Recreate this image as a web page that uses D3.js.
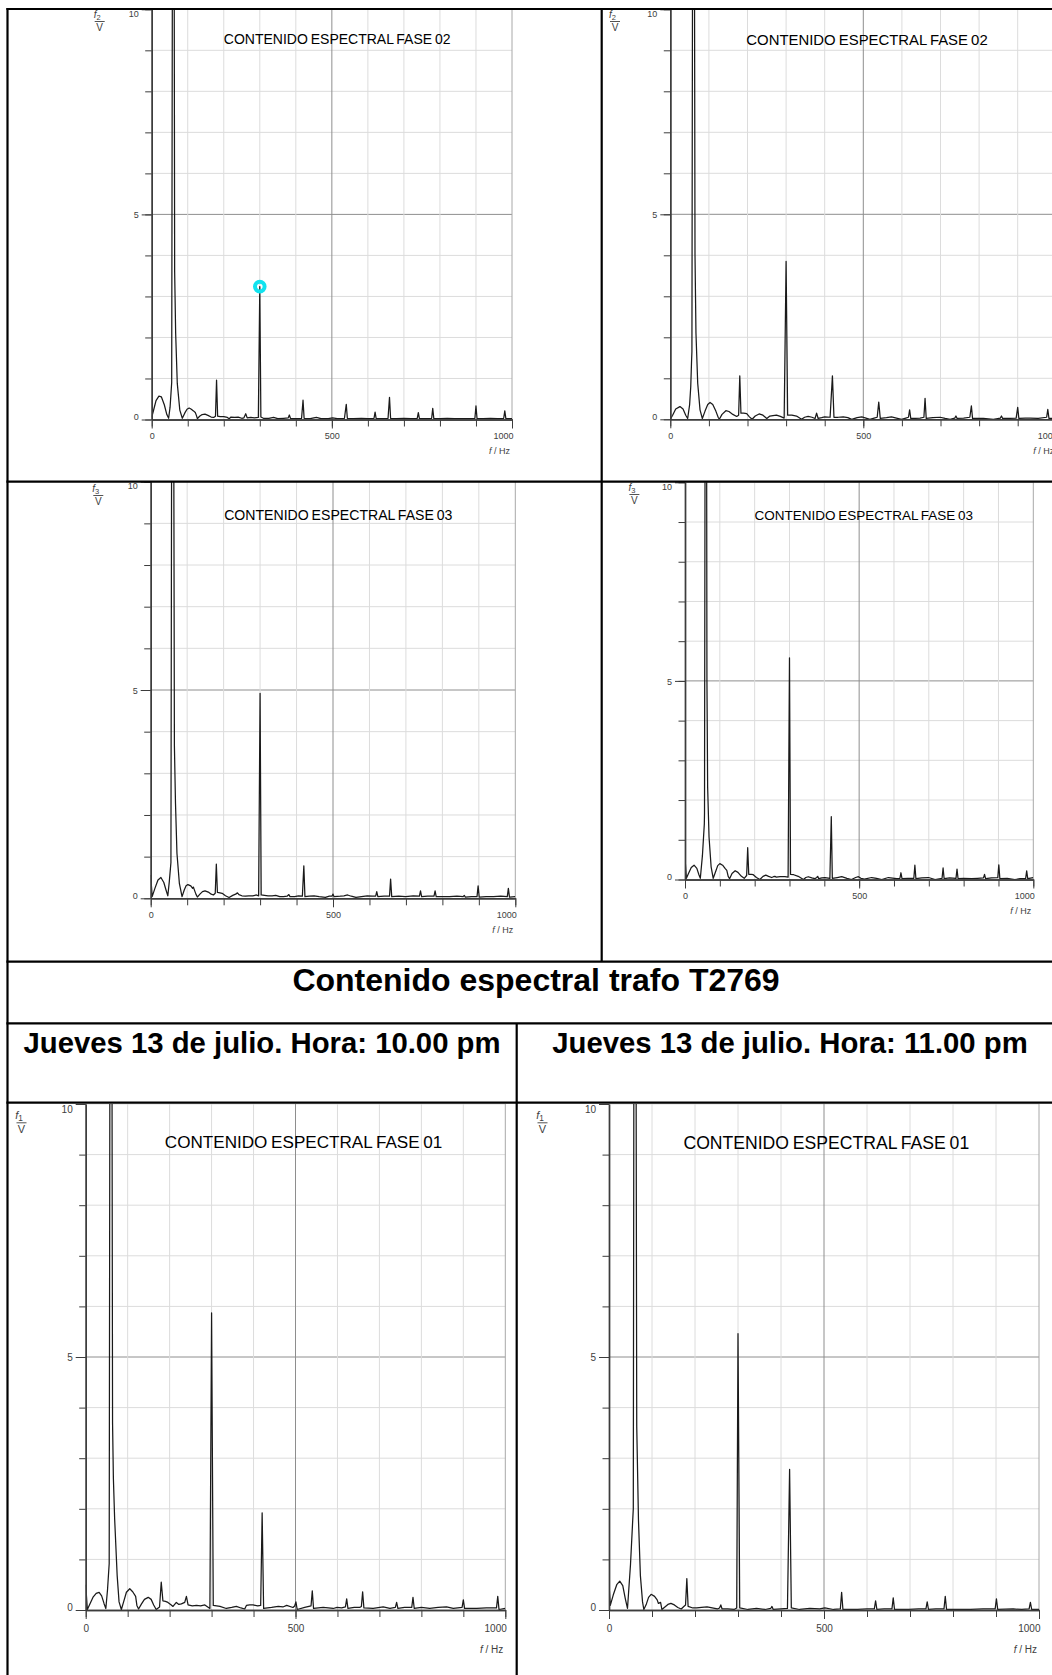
<!DOCTYPE html>
<html>
<head>
<meta charset="utf-8">
<script src="https://cdn.jsdelivr.net/npm/d3@7"></script>
<style>
  html, body { margin: 0; padding: 0; background: #fff; }
  svg { display: block; }
  text { font-family: "Liberation Sans", Arial, Helvetica, sans-serif; }
</style>
</head>
<body>
<script>
// ---- Data: spectra as [frequency Hz, amplitude V] ----
const fase02_a = [[0,0.05],[5,0.22],[12,0.46],[20,0.57],[27,0.55],[35,0.36],[42,0.12],[47,0.03],[51,0.3],[55.5,0.9],[60,25],[63.7,3.6],[66.5,2.1],[71,0.88],[78,0.23],[85,0.03],[92,0.16],[98,0.25],[104,0.28],[110,0.25],[116,0.21],[121,0.17],[124,0.1],[127,0.02],[133,0.08],[140,0.12],[148,0.13],[156,0.1],[165,0.06],[172,0.05],[177,0.08],[180,0.96],[183,0.08],[190,0.07],[200,0.07],[210,0.05],[215,0.02],[220,0.06],[230,0.05],[240,0.06],[250,0.03],[256,0.04],[261,0.14],[265,0.04],[275,0.05],[285,0.04],[296,0.05],[300,3.24],[303,0.06],[310,0.03],[325,0.03],[338,0.05],[350,0.02],[366,0.03],[379,0.04],[382,0.11],[385,0.03],[400,0.02],[416,0.03],[420,0.47],[423,0.03],[440,0.02],[457,0.05],[470,0.02],[490,0.02],[502,0.04],[515,0.02],[535,0.03],[540,0.37],[543,0.03],[560,0.02],[582,0.03],[600,0.02],[617,0.03],[620,0.18],[623,0.02],[640,0.02],[656,0.03],[660,0.54],[663,0.03],[680,0.02],[700,0.03],[720,0.02],[737,0.03],[740,0.17],[743,0.02],[760,0.02],[777,0.03],[780,0.27],[783,0.02],[800,0.02],[820,0.03],[840,0.02],[860,0.02],[880,0.02],[897,0.03],[900,0.33],[903,0.02],[920,0.02],[940,0.03],[960,0.02],[977,0.03],[980,0.21],[983,0.02],[1000,0.02]];

const fase02_b = [[0,0],[6,0.1],[14,0.25],[25,0.31],[33,0.25],[40,0.1],[45,0.02],[50,0.35],[53,0.8],[55,1.4],[56,1.65],[60,25],[64,4.0],[66.5,2.1],[71,0.88],[77,0.23],[83,0.02],[90,0.2],[97,0.36],[103,0.41],[110,0.36],[118,0.2],[124,0.05],[127,0.0],[134,0.12],[144,0.21],[152,0.19],[162,0.12],[172,0.07],[177,0.1],[180,1.06],[183,0.15],[190,0.15],[198,0.14],[205,0.06],[212,0.0],[220,0.08],[230,0.13],[240,0.1],[250,0.02],[258,0.08],[266,0.09],[275,0.1],[285,0.07],[295,0.03],[300,3.85],[304,0.1],[315,0.1],[327,0.08],[340,0.0],[348,0.05],[357,0.07],[367,0.05],[375,0.02],[379,0.15],[383,0.02],[392,0.04],[400,0.06],[414,0.05],[420,1.06],[424,0.05],[435,0.05],[448,0.06],[460,0.04],[470,0.0],[484,0.04],[496,0.06],[507,0.03],[517,0.0],[528,0.03],[536,0.05],[540,0.42],[544,0.02],[560,0.04],[573,0.06],[586,0.03],[599,0.0],[610,0.03],[617,0.05],[620,0.23],[623,0.02],[635,0.02],[647,0.03],[657,0.05],[660,0.51],[663,0.02],[680,0.04],[699,0.05],[712,0.02],[725,0.0],[737,0.03],[740,0.08],[743,0.02],[760,0.03],[776,0.05],[780,0.33],[783,0.02],[800,0.02],[811,0.02],[837,0.0],[855,0.03],[858,0.08],[861,0.02],[880,0.02],[896,0.03],[900,0.29],[903,0.02],[920,0.03],[932,0.03],[953,0.02],[975,0.05],[978,0.24],[981,0.02],[1000,0.03]];

const fase03_a = [[0,0.56],[4,0.04],[12,0.25],[20,0.44],[28,0.5],[36,0.38],[42,0.2],[47,0.06],[51,0.4],[55.5,0.86],[60,25],[65,3.66],[68,2.28],[72,1.08],[78.6,0.36],[86,0.04],[92,0.2],[97,0.3],[102,0.33],[110,0.3],[115,0.24],[117,0.27],[119,0.22],[124,0.1],[128,0.03],[135,0.1],[142,0.16],[149,0.18],[158,0.15],[166,0.1],[172,0.08],[177,0.12],[180,0.82],[183,0.14],[190,0.13],[196,0.12],[205,0.06],[215,0.02],[225,0.07],[233,0.1],[238,0.13],[242,0.09],[250,0.06],[260,0.05],[269,0.06],[280,0.06],[290,0.08],[296,0.06],[300,4.92],[303,0.08],[312,0.07],[322,0.06],[333,0.06],[343,0.07],[354,0.04],[364,0.04],[374,0.05],[379,0.09],[382,0.04],[395,0.04],[405,0.06],[416,0.05],[420,0.78],[423,0.04],[435,0.05],[448,0.06],[462,0.04],[479,0.02],[490,0.05],[497,0.05],[500,0.1],[503,0.04],[520,0.05],[530,0.06],[540,0.08],[550,0.05],[563,0.02],[578,0.04],[594,0.06],[608,0.05],[617,0.05],[620,0.16],[623,0.04],[640,0.05],[655,0.05],[658,0.46],[661,0.04],[680,0.05],[699,0.04],[720,0.06],[737,0.05],[740,0.18],[743,0.04],[760,0.05],[777,0.05],[780,0.18],[783,0.04],[800,0.04],[820,0.04],[840,0.05],[857,0.04],[860,0.07],[863,0.03],[880,0.04],[895,0.04],[898,0.3],[901,0.03],[920,0.04],[940,0.04],[960,0.05],[978,0.04],[981,0.24],[984,0.03],[1000,0.04]];

const fase03_b = [[0,0.55],[4,0.03],[10,0.15],[18,0.3],[26,0.36],[34,0.28],[40,0.12],[44,0.03],[50,0.6],[55.5,1.4],[56,1.66],[60,25],[63,5],[65,2.33],[69,1.07],[75,0.32],[81,0.03],[88,0.2],[94,0.35],[100,0.4],[108,0.36],[115,0.28],[120,0.23],[124,0.08],[128,0.02],[135,0.15],[144,0.22],[152,0.18],[162,0.08],[170,0.03],[177,0.1],[180,0.8],[183,0.13],[190,0.13],[196,0.12],[205,0.05],[215,0.0],[224,0.08],[232,0.11],[240,0.08],[249,0.05],[254,0.07],[258,0.08],[262,0.06],[273,0.07],[287,0.07],[296,0.06],[300,5.58],[303,0.13],[312,0.12],[325,0.08],[340,0.0],[347,0.05],[354,0.07],[364,0.04],[373,0.02],[378,0.05],[381,0.08],[384,0.02],[393,0.04],[402,0.05],[416,0.03],[420,1.58],[423,0.03],[437,0.05],[450,0.07],[465,0.03],[478,0.0],[490,0.05],[498,0.07],[505,0.03],[515,0.01],[536,0.05],[550,0.03],[565,0.0],[584,0.05],[608,0.02],[617,0.03],[620,0.17],[623,0.02],[640,0.03],[657,0.03],[660,0.36],[663,0.02],[680,0.04],[699,0.05],[718,0.0],[738,0.03],[741,0.29],[744,0.02],[760,0.04],[778,0.03],[781,0.26],[784,0.02],[800,0.03],[823,0.02],[840,0.03],[857,0.04],[860,0.13],[863,0.02],[880,0.04],[898,0.05],[901,0.37],[904,0.02],[925,0.03],[947,0.0],[962,0.02],[978,0.02],[981,0.22],[984,0.02],[1000,0.05]];

const fase01_22h = [[0,0.5],[4,0.01],[10,0.12],[18,0.26],[25,0.33],[32,0.35],[38,0.28],[44,0.12],[48,0.03],[52,0.4],[56,0.92],[60,25],[64,3.7],[66,2.6],[69,1.8],[75,0.68],[79.5,0.16],[85,0.01],[90,0.15],[97,0.35],[105,0.42],[112,0.36],[119,0.27],[122,0.09],[126,0.02],[133,0.12],[140,0.21],[149,0.25],[156,0.21],[162,0.1],[168,0.01],[176,0.06],[180,0.55],[184,0.18],[190,0.17],[196,0.15],[204,0.1],[208,0.07],[216,0.15],[222,0.11],[228,0.12],[236,0.15],[240,0.27],[244,0.1],[254,0.08],[264,0.09],[274,0.08],[284,0.1],[296,0.03],[300,5.87],[304,0.09],[312,0.08],[320,0.07],[335,0.03],[348,0.05],[359,0.07],[370,0.04],[379,0.02],[383,0.09],[391,0.1],[399,0.1],[410,0.08],[417,0.09],[420.5,1.92],[424,0.03],[443,0.05],[459,0.07],[470,0.06],[479,0.09],[494,0.05],[498,0.08],[501,0.16],[504,0.01],[522,0.05],[537,0.08],[540,0.38],[543,0.03],[566,0.05],[590,0.03],[599,0.05],[610,0.04],[619,0.06],[622,0.22],[625,0.03],[640,0.05],[653,0.05],[657,0.07],[660,0.36],[663,0.04],[685,0.03],[709,0.06],[725,0.03],[738,0.05],[741,0.15],[744,0.03],[760,0.05],[777,0.05],[780,0.25],[783,0.03],[800,0.05],[820,0.03],[840,0.05],[860,0.06],[876,0.03],[897,0.05],[900,0.2],[903,0.03],[932,0.03],[955,0.04],[979,0.04],[982,0.27],[985,0.01],[1000,0.03]];

const fase01_23h = [[0,0.52],[3,0.09],[10,0.3],[18,0.5],[25,0.57],[32,0.48],[38,0.22],[43,0.03],[50,0.9],[56.5,2.0],[60,25],[64.5,3.63],[68.5,1.79],[73,0.68],[78,0.16],[81,0.01],[87,0.12],[92,0.25],[98,0.31],[106,0.27],[112,0.2],[115,0.13],[120,0.15],[123,0.01],[130,0.06],[137,0.11],[144,0.13],[152,0.1],[160,0.05],[168,0.02],[174,0.07],[178,0.1],[181,0.62],[184,0.07],[195,0.04],[204,0.04],[215,0.05],[228,0.06],[240,0.04],[252,0.02],[257,0.04],[260,0.1],[263,0.02],[276,0.02],[291,0.01],[297,0.04],[300,5.46],[304,0.04],[323,0.01],[343,0.03],[363,0.01],[376,0.03],[379,0.07],[382,0.01],[400,0.02],[415,0.03],[420,2.78],[424,0.04],[443,0.01],[467,0.03],[490,0.02],[502,0.04],[522,0.01],[538,0.02],[541,0.35],[544,0.01],[578,0.01],[600,0.02],[617,0.02],[620,0.18],[623,0.01],[640,0.02],[658,0.02],[661,0.24],[664,0.01],[697,0.01],[720,0.02],[737,0.02],[740,0.16],[743,0.01],[760,0.02],[779,0.02],[782,0.27],[785,0.01],[841,0.01],[870,0.02],[898,0.02],[901,0.22],[904,0.01],[940,0.02],[960,0.01],[977,0.02],[980,0.15],[983,0.01],[1000,0.01]];

// Marked harmonic on the first phase-02 spectrum
const marker02 = [300, 3.24];

// Axis definitions
const yMajorTicks = [0, 5, 10];
const yMinorTicks = [0,1,2,3,4,5,6,7,8,9,10];
const xMajorTicks = [0, 500, 1000];
const xMinorTicks = [0,100,200,300,400,500,600,700,800,900,1000];

// Text
const pageTitle = "Contenido espectral trafo T2769";
const dateLabels = ["Jueves 13 de julio. Hora: 10.00 pm", "Jueves 13 de julio. Hora: 11.00 pm"];
const chartTitles = ["CONTENIDO ESPECTRAL FASE 02", "CONTENIDO ESPECTRAL FASE 02",
                     "CONTENIDO ESPECTRAL FASE 03", "CONTENIDO ESPECTRAL FASE 03",
                     "CONTENIDO ESPECTRAL FASE 01", "CONTENIDO ESPECTRAL FASE 01"];
const phaseSubs = ["2", "2", "3", "3", "1", "1"];

// ---- Layout of the six panels ----
const panels = [
  {x0:151.7, x1:512,    y0:419.5, y10:9.3,   tx:337.2, ty:44,   ts:14,   fx:99.7,  fb:21.5,   fs:9,  ux:34.5, pad:4},
  {x0:670.3, x1:1056.3, y0:419.3, y10:9.3,   tx:867,   ty:45,   ts:14.9, fx:615,   fb:21.5,   fs:9,  ux:34.5, pad:4},
  {x0:150.7, x1:515.3,  y0:898.3, y10:481.7, tx:338.3, ty:519.5,ts:14.1, fx:98.3,  fb:495.5,  fs:9,  ux:35,   pad:4},
  {x0:685,   x1:1033.3, y0:879.5, y10:482.3, tx:863.7, ty:519.5,ts:13.5, fx:634.4, fb:494.5,  fs:9,  ux:34,   pad:4},
  {x0:85.7,  x1:505.3,  y0:1610,  y10:1104,  tx:303.6, ty:1148, ts:17.1, fx:21.5,  fb:1122.8, fs:10, ux:42.5, pad:6},
  {x0:609,   x1:1039,   y0:1610,  y10:1104,  tx:826.3, ty:1149, ts:17.6, fx:542.5, fb:1122.8, fs:10, ux:42.5, pad:6}
];
const spectra = [fase02_a, fase02_b, fase03_a, fase03_b, fase01_22h, fase01_23h];

const W = 1052, H = 1675;
const svg = d3.select("body").append("svg").attr("width", W).attr("height", H);
svg.append("rect").attr("width", W).attr("height", H).attr("fill", "#fff");

function drawPanel(p, data, i) {
  const g = svg.append("g");
  const x = d3.scaleLinear().domain([0, 1000]).range([p.x0, p.x1]);
  const y = d3.scaleLinear().domain([0, 10]).range([p.y0, p.y10]);

  // grid
  g.append("g").selectAll("line").data(d3.range(1, 11)).join("line")
    .attr("x1", p.x0).attr("x2", p.x1)
    .attr("y1", d => y(d)).attr("y2", d => y(d))
    .attr("stroke", d => d === 5 ? "#8e8e8e" : "#dcdcdc").attr("stroke-width", 1);
  g.append("g").selectAll("line").data(d3.range(100, 1001, 100)).join("line")
    .attr("x1", d => x(d)).attr("x2", d => x(d))
    .attr("y1", p.y0).attr("y2", p.y10)
    .attr("stroke", d => d === 500 ? "#8e8e8e" : (d === 1000 ? "#a8a8a8" : "#dcdcdc"))
    .attr("stroke-width", 1);

  // spectrum
  const clipId = "clip" + i;
  svg.append("clipPath").attr("id", clipId).append("rect")
    .attr("x", p.x0).attr("y", p.y10).attr("width", p.x1 - p.x0).attr("height", p.y0 - p.y10 + 1);
  const line = d3.line().x(d => x(d[0])).y(d => y(d[1]));
  g.append("path").datum(data).attr("d", line)
    .attr("fill", "none").attr("stroke", "#1a1a1a").attr("stroke-width", 1.25)
    .attr("stroke-linejoin", "round").attr("clip-path", `url(#${clipId})`);

  // y axis: minor and major ticks
  const axCol = "#3c3c3c";
  const yMinor = g.append("g").attr("transform", `translate(${p.x0},0)`)
    .call(d3.axisLeft(y).tickValues(yMinorTicks).tickSize(6.5).tickSizeOuter(0).tickFormat(""));
  const yMajor = g.append("g").attr("transform", `translate(${p.x0},0)`)
    .call(d3.axisLeft(y).tickValues(yMajorTicks).tickSize(10).tickSizeOuter(0).tickPadding(3).tickFormat(d3.format("d")));
  [yMinor, yMajor].forEach(a => {
    a.select(".domain").attr("stroke", axCol).attr("stroke-width", 1.4);
    a.selectAll(".tick line").attr("stroke", axCol);
  });
  yMajor.selectAll(".tick text")
    .attr("font-size", p.fs).attr("fill", "#404040")
    .attr("font-family", "'Liberation Sans', Arial, sans-serif")
    .attr("dy", d => d === 10 ? "0.8em" : (d === 0 ? "0.0em" : "0.35em"));

  // x axis
  const xMinor = g.append("g").attr("transform", `translate(0,${p.y0})`)
    .call(d3.axisBottom(x).tickValues(xMinorTicks).tickSize(7).tickSizeOuter(0).tickFormat(""));
  const xMajor = g.append("g").attr("transform", `translate(0,${p.y0})`)
    .call(d3.axisBottom(x).tickValues(xMajorTicks).tickSize(9).tickSizeOuter(0).tickPadding(p.pad).tickFormat(d3.format("d")));
  [xMinor, xMajor].forEach(a => {
    a.select(".domain").attr("stroke", axCol).attr("stroke-width", 1.4);
    a.selectAll(".tick line").attr("stroke", axCol);
  });
  xMajor.selectAll(".tick text")
    .attr("font-size", p.fs).attr("fill", "#404040")
    .attr("font-family", "'Liberation Sans', Arial, sans-serif")
    .attr("text-anchor", d => d === 1000 ? "end" : "middle")
    .attr("x", d => d === 1000 ? 1 : 0);

  // x unit label
  const xl = g.append("text").attr("x", p.x1 - 2).attr("y", p.y0 + p.ux)
    .attr("text-anchor", "end").attr("font-size", p.fs).attr("fill", "#404040");
  xl.append("tspan").attr("font-style", "italic").text("f");
  xl.append("tspan").text(" / Hz");

  // y unit label as a fraction f_n / V
  const fsz = p.fs + 1;
  const yl = g.append("text").attr("x", p.fx - 2.5).attr("y", p.fb - 3.5)
    .attr("text-anchor", "middle").attr("font-size", fsz).attr("fill", "#404040");
  yl.append("tspan").attr("font-style", "italic").text("f");
  yl.append("tspan").attr("font-size", fsz * 0.75).attr("dy", 2).text(phaseSubs[i]);
  g.append("line").attr("x1", p.fx - 5).attr("x2", p.fx + 5)
    .attr("y1", p.fb).attr("y2", p.fb).attr("stroke", "#404040").attr("stroke-width", 0.9);
  g.append("text").attr("x", p.fx).attr("y", p.fb + fsz * 0.95)
    .attr("text-anchor", "middle").attr("font-size", fsz).attr("fill", "#404040").text("V");

  // title inside plot
  g.append("text").attr("x", p.tx).attr("y", p.ty).attr("text-anchor", "middle")
    .attr("font-size", p.ts).attr("fill", "#000").attr("word-spacing", -1)
    .text(chartTitles[i]);

  return {x, y, g};
}

const drawn = panels.map((p, i) => drawPanel(p, spectra[i], i));

// marker on the 5th harmonic of the first panel
const m = drawn[0];
m.g.append("circle").attr("cx", m.x(marker02[0])).attr("cy", m.y(marker02[1]))
  .attr("r", 4.8).attr("fill", "none").attr("stroke", "#12e3ef").attr("stroke-width", 4);

// ---- Table frame ----
const tbl = svg.append("g").attr("stroke", "#000").attr("stroke-width", 2.2);
const hLines = [[9, 6.4, W], [481.7, 6.4, W], [961.7, 6.4, W], [1023.3, 6.4, W], [1102.7, 6.4, W]];
hLines.forEach(([yy, a, b]) => tbl.append("line").attr("x1", a).attr("x2", b).attr("y1", yy).attr("y2", yy));
const vLines = [[7.5, 8, H], [601.7, 9, 961.7], [516.7, 1023.3, H]];
vLines.forEach(([xx, a, b]) => tbl.append("line").attr("x1", xx).attr("x2", xx).attr("y1", a).attr("y2", b));

// ---- Headings ----
svg.append("text").attr("x", 536).attr("y", 991).attr("text-anchor", "middle")
  .attr("font-size", 32).attr("font-weight", "bold").attr("fill", "#000").text(pageTitle);
[262, 790].forEach((cx, k) => {
  svg.append("text").attr("x", cx).attr("y", 1053).attr("text-anchor", "middle")
    .attr("font-size", 29.3).attr("font-weight", "bold").attr("fill", "#000").text(dateLabels[k]);
});
</script>
</body>
</html>
